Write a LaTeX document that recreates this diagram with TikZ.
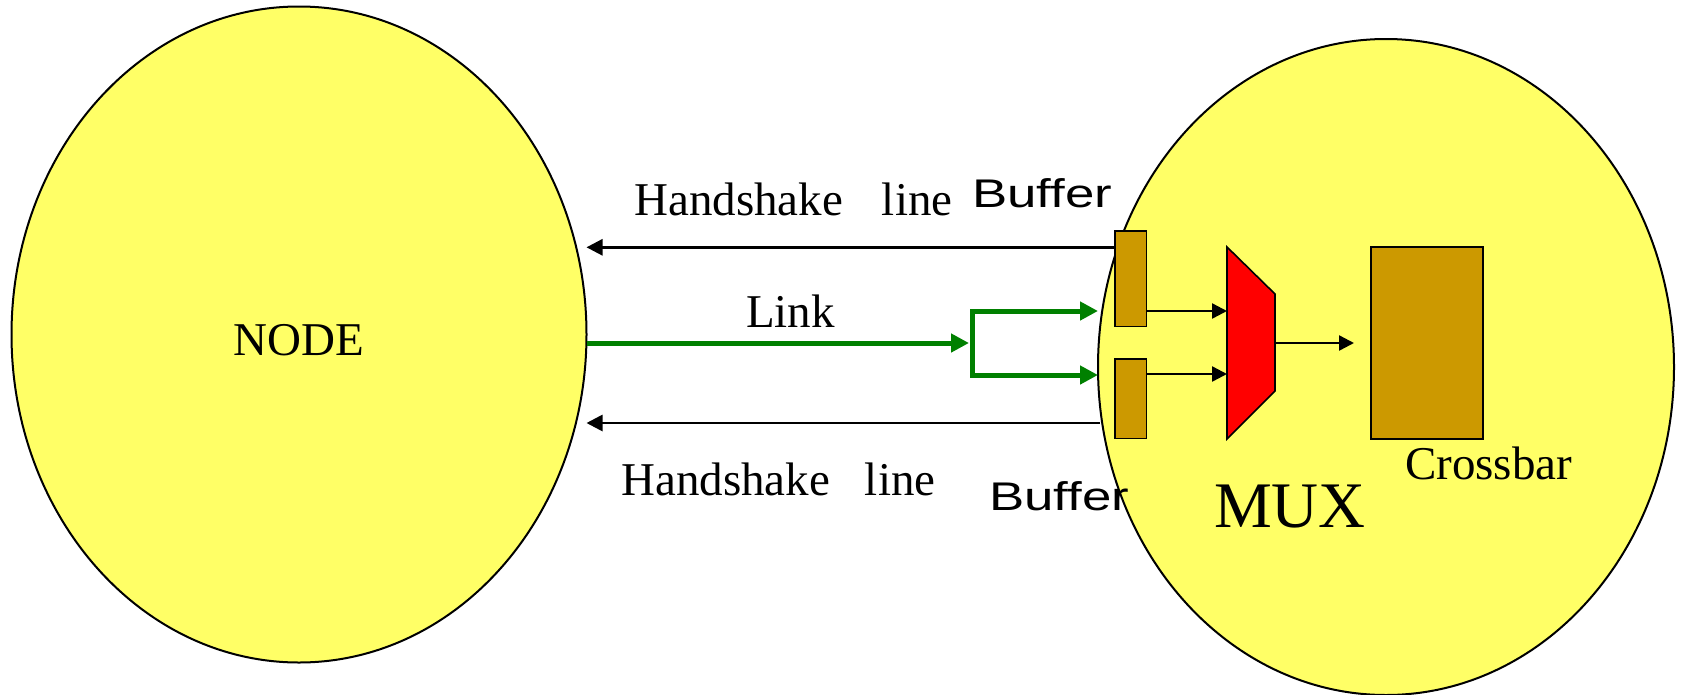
\documentclass[tikz,border=0pt]{standalone}
\usepackage{fontspec}
\setmainfont{Liberation Serif}
\newfontfamily\bufont{Liberation Sans}
\usetikzlibrary{shapes.geometric,arrows.meta}
\definecolor{ylw}{RGB}{255,255,102}
\definecolor{gold}{RGB}{204,153,0}
\definecolor{lgreen}{RGB}{0,128,0}
\begin{document}
\begin{tikzpicture}[x=1pt,y=-1pt,
  blob/.style={ellipse, draw, fill=ylw, line width=2pt, inner sep=0pt, outer sep=0pt},
  buf/.style={draw, fill=gold, line width=1.6pt, inner sep=0pt, outer sep=0pt},
  harrow/.style={line width=2.7pt, -{Triangle[length=16pt,width=16pt]}},
  marrow/.style={line width=2.4pt, -{Triangle[length=15pt,width=15pt]}},
  gline/.style={draw=lgreen, line width=5pt},
  garrow/.style={gline, -{Triangle[length=18pt,width=18pt]}},
  txt/.style={inner sep=0pt, anchor=base west, font=\fontsize{47}{50}\selectfont},
  buftxt/.style={inner sep=0pt, anchor=base west, font=\bufont\fontsize{40}{44}\selectfont, xscale=1.32}]
\useasboundingbox (0,0) rectangle (1682,694);
% ellipses
\node[blob, minimum width=575pt, minimum height=656pt] (nodeL) at (299,334.5) {};
\node[blob, minimum width=576pt, minimum height=656pt] (nodeR) at (1386,367) {};
% buffers, mux, crossbar
\node[buf, minimum width=31.5pt, minimum height=95.5pt] (bufT) at (1130.75,278.75) {};
\node[buf, minimum width=31.5pt, minimum height=79.5pt] (bufB) at (1130.75,398.75) {};
\node[buf, minimum width=112pt, minimum height=192pt] (xbar) at (1427,343) {};
\draw[fill=red, line width=1.6pt] (1227,247) -- (1275,294) -- (1275,391) -- (1227,439) -- cycle;
\coordinate (muxA) at (1227,311);
\coordinate (muxB) at (1227,374);
\coordinate (muxO) at (1275,343);
\coordinate (xbarin) at (1354,343);
\coordinate (split) at (972,343);
\coordinate (bufTin) at (1098,311);
\coordinate (bufBin) at (1098,375);
\coordinate (hsB) at (1100,423);
% handshake lines
\draw[harrow] (bufT.west |- 0,247.3) -- (nodeL.east |- 0,247.3);
\draw[harrow] (hsB) -- (nodeL.east |- hsB);
% link
\draw[garrow] (nodeL.east |- split) -- (969,343);
\draw[garrow] (split) |- (bufTin);
\draw[garrow] (split) |- (bufBin);
% internal arrows
\draw[marrow] (bufT.east |- muxA) -- (muxA);
\draw[marrow] (bufB.east |- muxB) -- (muxB);
\draw[marrow] (muxO) -- (xbarin);
% texts
\node[txt] (tNode) at (233,355) {NODE};
\node[txt] (tHsT) at (634,215) {Handshake\hspace{39pt}line};
\node[txt] (tHsB) at (621,495) {Handshake\hspace{35pt}line};
\node[txt] (tLink) at (746,327) {Link};
\node[txt] (tXbar) at (1405,479) {Crossbar};
\node[txt, font=\fontsize{65}{70}\selectfont] (tMux) at (1214,527) {MUX};
\node[buftxt] (tBufT) at (972,207) {Buffer};
\node[buftxt] (tBufB) at (989,510) {Buffer};
\end{tikzpicture}
\end{document}
